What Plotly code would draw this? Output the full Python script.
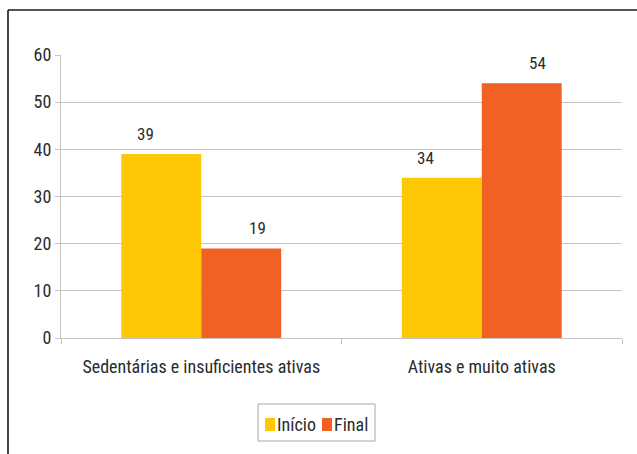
import plotly.graph_objects as go

# Activity level groups and percentages at the start and end
categories = ["Sedentárias e insuficientes ativas", "Ativas e muito ativas"]
inicio = [39, 34]
final = [19, 54]
series_names = ["Início", "Final"]
y_ticks = [0, 10, 20, 30, 40, 50, 60]

YELLOW = "#FFC805"
ORANGE = "#F16124"
FONT = "Liberation Sans Narrow, Arial Narrow, Roboto Condensed, sans-serif"
TEXT = "#2b2b2b"
GRID = "#c4c4c4"

W, H = 637, 454
ML, MR, MT, MB = 61, 15, 55, 116
PW, PH = W - ML - MR, H - MT - MB


def px(xp):
    """Pixel column -> paper x."""
    return (xp - ML) / PW


def py(yp):
    """Pixel row -> paper y."""
    return (H - MB - yp) / PH


fig = go.Figure()
fig.add_trace(go.Bar(name=series_names[0], x=categories, y=inicio,
                     marker=dict(color=YELLOW, line=dict(width=0))))
fig.add_trace(go.Bar(name=series_names[1], x=categories, y=final,
                     marker=dict(color=ORANGE, line=dict(width=0))))

# Value labels above each bar (grouped bars: offsets of a quarter category)
annotations = []
for vals, off in ((inicio, -0.2), (final, 0.2)):
    for i, v in enumerate(vals):
        annotations.append(dict(
            x=i + off, y=v, xref="x", yref="y", text=str(v),
            showarrow=False, yanchor="middle", yshift=20,
            font=dict(family=FONT, size=17, color=TEXT)))

shapes = [
    # outer frame (left and top edges)
    dict(type="line", xref="paper", yref="paper",
         x0=px(8), x1=px(8), y0=py(10), y1=py(470),
         line=dict(color="#1a1a1a", width=1.6)),
    dict(type="line", xref="paper", yref="paper",
         x0=px(8), x1=px(650), y0=py(10), y1=py(10),
         line=dict(color="#1a1a1a", width=1.6)),
    # legend box
    dict(type="rect", xref="paper", yref="paper",
         x0=px(258), x1=px(375), y0=py(404), y1=py(441),
         line=dict(color="#a8a8a8", width=1), fillcolor="white"),
]

# legend entries: colour swatch followed by the series name
legend_items = [(series_names[0], YELLOW, 265), (series_names[1], ORANGE, 322)]
for name, color, x0 in legend_items:
    shapes.append(dict(type="rect", xref="paper", yref="paper",
                       x0=px(x0), x1=px(x0 + 10), y0=py(418), y1=py(431),
                       line=dict(width=0), fillcolor=color))
    annotations.append(dict(x=px(x0 + 11), y=py(424), xref="paper", yref="paper",
                            text=name, showarrow=False, xanchor="left",
                            yanchor="middle", borderpad=0,
                            font=dict(family=FONT, size=18, color=TEXT)))

fig.update_layout(
    width=W, height=H,
    margin=dict(l=ML, r=MR, t=MT, b=MB),
    paper_bgcolor="white", plot_bgcolor="white",
    barmode="group", bargap=0.43, bargroupgap=0,
    font=dict(family=FONT, size=18, color=TEXT),
    showlegend=False,
    annotations=annotations,
    shapes=shapes,
)

fig.update_xaxes(
    type="category", range=[-0.5, 1.5],
    showline=True, linecolor=GRID, linewidth=1,
    ticks="outside", tickson="boundaries", ticklen=5, tickcolor=GRID,
    showgrid=False, ticklabelstandoff=12,
    tickfont=dict(family=FONT, size=18, color=TEXT),
)
fig.update_yaxes(
    range=[0, 60], tickvals=y_ticks,
    showgrid=True, gridcolor=GRID, gridwidth=1,
    showline=True, linecolor=GRID, linewidth=1,
    ticks="outside", ticklen=5, tickcolor=GRID,
    zeroline=False,
    tickfont=dict(family=FONT, size=18, color=TEXT),
)

fig.write_html("out.html")
